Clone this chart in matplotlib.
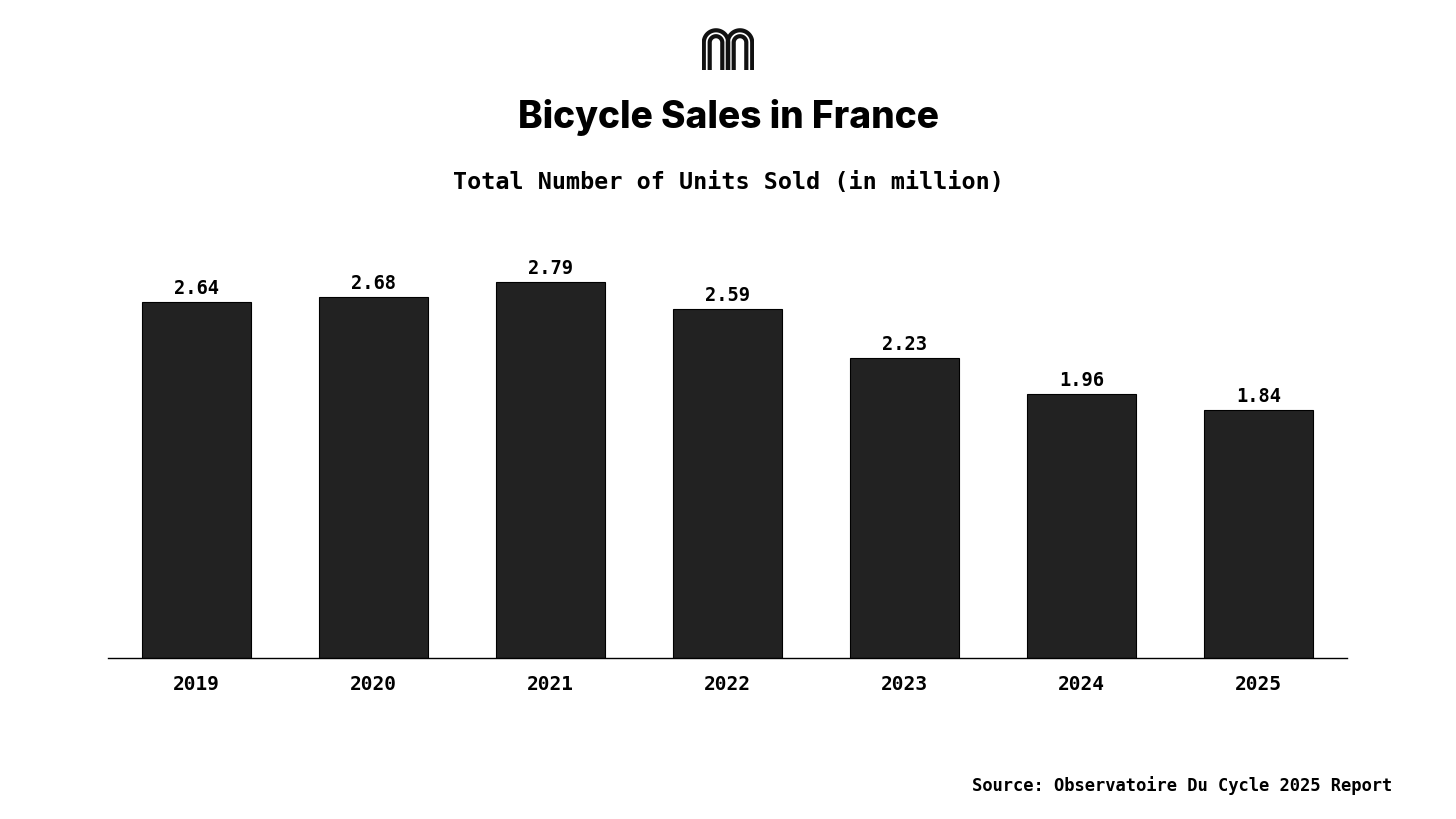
import matplotlib.pyplot as plt
import numpy as np

years = ['2019', '2020', '2021', '2022', '2023', '2024', '2025']
units = [2.64, 2.68, 2.79, 2.59, 2.23, 1.96, 1.84]

fig = plt.figure(figsize=(14.56, 8.19), dpi=100)
fig.patch.set_facecolor('white')

# 主图
ax = fig.add_axes([108 / 1456, 161 / 819, 1239 / 1456, 404 / 819])
x = np.arange(len(years))
bars = ax.bar(x, units, width=0.62, color='#222222', edgecolor='#000000', linewidth=0.8)
for xi, v in zip(x, units):
    ax.text(xi, v + 0.03, f'{v:.2f}', ha='center', va='bottom',
            family='DejaVu Sans Mono', fontweight='bold', fontsize=13.5, color='#000000')
ax.set_xlim(-0.5, 6.5)
ax.set_ylim(0, 3.0)
ax.set_xticks(x)
ax.set_xticklabels(years, family='DejaVu Sans Mono', fontweight='bold', fontsize=14, color='#000000')
ax.tick_params(axis='x', length=0, pad=12)
ax.set_yticks([])
for s in ['top', 'right', 'left']:
    ax.spines[s].set_visible(False)
ax.spines['bottom'].set_linewidth(1.0)
ax.spines['bottom'].set_color('#000000')

# 标题
fig.text(0.5, 1 - 118 / 819, 'Bicycle Sales in France', ha='center', va='center',
         family='Inter', fontweight='heavy', fontsize=26.7, color='#000000')
fig.text(0.5, 1 - 182 / 819, 'Total Number of Units Sold (in million)', ha='center', va='center',
         family='DejaVu Sans Mono', fontweight='bold', fontsize=16.8, color='#000000')
fig.text(1392 / 1456, 1 - 786 / 819, 'Source: Observatoire Du Cycle 2025 Report', ha='right', va='center',
         family='DejaVu Sans Mono', fontweight='bold', fontsize=12.3, color='#000000')

# logo
lg = fig.add_axes([702 / 1456, (819 - 70) / 819, 52 / 1456, 42 / 819])
lg.set_xlim(0, 52)
lg.set_ylim(0, 42)
lg.axis('off')
t = np.linspace(0, np.pi, 60)
for cx in [14, 38]:
    for r in [12.2, 6.3]:
        xs = np.concatenate([[cx + r], cx + r * np.cos(t), [cx - r]])
        ys = np.concatenate([[0], 27.5 + r * np.sin(t), [0]])
        lg.plot(xs, ys, color='#111111', lw=3.0, solid_capstyle='butt')

fig.savefig('out.png', dpi=100, facecolor='white')
